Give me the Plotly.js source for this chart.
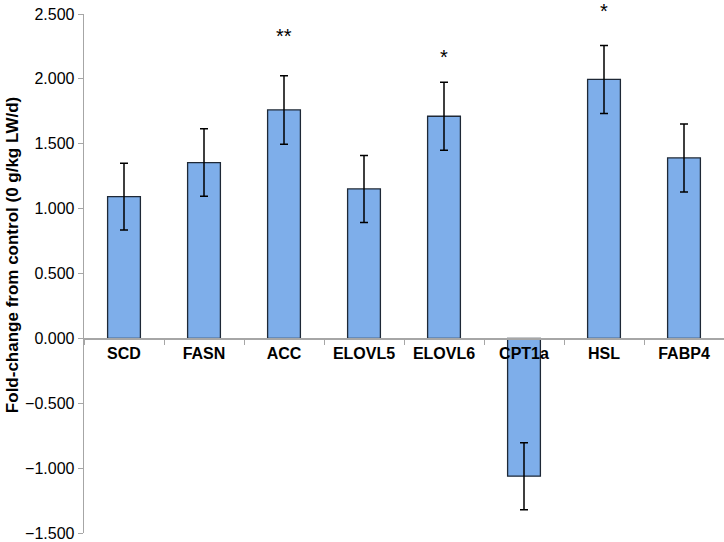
<!DOCTYPE html>
<html>
<head>
<meta charset="utf-8">
<script src="https://cdn.plot.ly/plotly-3.0.1.min.js"></script>
<style>html,body{margin:0;padding:0;background:#fff;}#chart{width:724px;height:542px;}</style>
</head>
<body>
<div id="chart"></div>
<script>
var genes = ["SCD", "FASN", "ACC", "ELOVL5", "ELOVL6", "CPT1a", "HSL", "FABP4"];
var foldChange = [1.093, 1.355, 1.761, 1.152, 1.712, -1.062, 1.996, 1.391];
var errorSE = [0.257, 0.260, 0.264, 0.258, 0.262, 0.258, 0.262, 0.262];
var sigGenes = ["ACC", "ELOVL6", "HSL"];
var sigMarks = ["**", "*", "*"];
var sigLevel = [2.33, 2.17, 2.52];
var yTicks = [-1.5, -1.0, -0.5, 0, 0.5, 1.0, 1.5, 2.0, 2.5];
var yTickText = yTicks.map(function (v) { return v.toFixed(3).replace("-", "\u2212"); });
var yRange = [-1.5, 2.5];

var trace = {
  type: "bar",
  x: genes,
  y: foldChange,
  width: 0.41,
  marker: {color: "#7eaeea", line: {color: "#1e2836", width: 1.3}},
  error_y: {type: "data", array: errorSE, visible: true, color: "#000000", thickness: 1.5, width: 4},
  hoverinfo: "x+y"
};

var font = "Liberation Sans, Arial, sans-serif";
var annotations = sigGenes.map(function (g, i) {
  return {x: g, y: (sigLevel[i] - yRange[0]) / (yRange[1] - yRange[0]), xref: "x", yref: "paper",
    text: sigMarks[i], showarrow: false,
    font: {family: font, size: 20, color: "#000"}, yanchor: "middle"};
});
annotations.push({
  text: "Fold-change from control (0 g/kg LW/d)", textangle: -90,
  xref: "paper", yref: "paper", x: -0.112, y: 0.536, xanchor: "center", yanchor: "middle",
  showarrow: false, font: {family: font, size: 17, color: "#000", weight: "bold"}
});

var layout = {
  width: 724, height: 542,
  margin: {l: 84, r: 0, t: 14, b: 9},
  paper_bgcolor: "#ffffff", plot_bgcolor: "#ffffff",
  showlegend: false,
  font: {family: font, color: "#000"},
  xaxis: {
    type: "category", anchor: "free", position: 0.375,
    showline: true, linecolor: "#a6a6a6", linewidth: 1.3,
    ticks: "outside", tickson: "boundaries", ticklen: 5, tickcolor: "#a6a6a6",
    showgrid: false, zeroline: false,
    tickfont: {family: font, size: 16, color: "#000", weight: "bold"},
    range: [-0.5, 7.5]
  },
  yaxis: {
    range: yRange, tickvals: yTicks, ticktext: yTickText,
    showline: true, linecolor: "#a6a6a6", linewidth: 1.3,
    ticks: "outside", ticklen: 5, tickcolor: "#a6a6a6",
    showgrid: false, zeroline: false,
    tickfont: {family: font, size: 16, color: "#000"}
  },
  annotations: annotations
};

Plotly.newPlot("chart", [trace], layout, {displayModeBar: false, staticPlot: true});
</script>
</body>
</html>
